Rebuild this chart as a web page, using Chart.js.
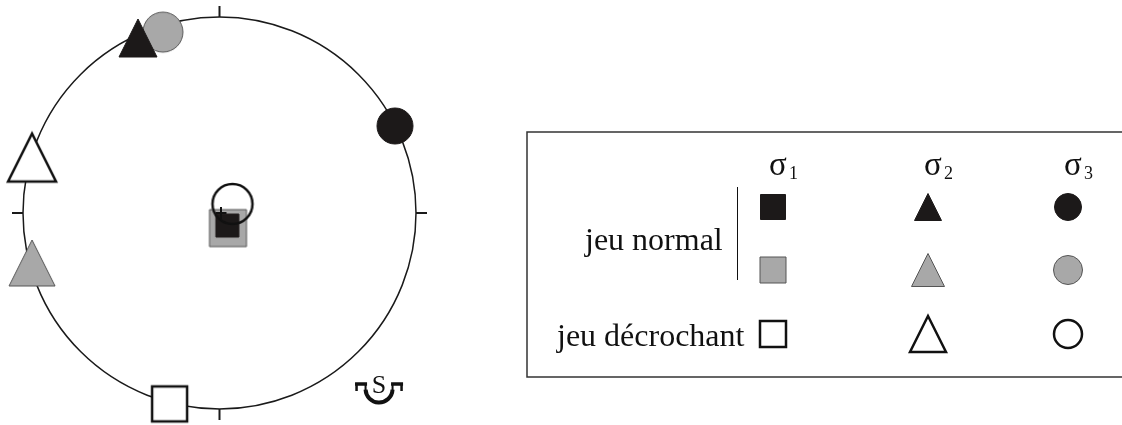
<!DOCTYPE html>
<html>
<head>
<meta charset="utf-8">
<script src="https://cdn.jsdelivr.net/npm/chart.js@4.4.1/dist/chart.umd.min.js"></script>
<style>
  html, body { margin: 0; padding: 0; background: #fff; }
  #wrap { width: 1122px; height: 425px; }
</style>
</head>
<body>
<div id="wrap"><canvas id="stereo" width="1122" height="425"></canvas></div>
<script>
// colonnes de la légende
const sigmaNames = ['σ', 'σ', 'σ'];
const sigmaIndex = ['1', '2', '3'];
const rowNames = ['jeu normal', 'jeu décrochant'];

// positions sur le stéréogramme (cercle unité, x = est, y = nord), ordre σ1, σ2, σ3
const normalBlackX = [0.04, -0.415, 0.893];
const normalBlackY = [-0.064, 0.893, 0.444];
const normalGrayX = [0.043, -0.954, -0.288];
const normalGrayY = [-0.077, -0.255, 0.923];
const decroX = [-0.254, -0.954, 0.066];
const decroY = [-0.974, 0.283, 0.046];

// repère S (symbole de la faille)
const sMarkX = 0.812;
const sMarkY = -0.893;

document.addEventListener('DOMContentLoaded', () => {
    const kinds = ['square', 'triangle', 'circle'];

    const styles = {
        black: { fill: '#1c1919', stroke: '#1c1919', lw: 1 },
        gray: { fill: '#a8a8a8', stroke: '#555555', lw: 1 },
        open: { fill: '#ffffff', stroke: '#111111', lw: 2.5 }
    };
    // tailles des symboles (carré, triangle, cercle)
    const plotSizes = { black: [23, 38, 36], gray: [37, 46, 40], open: [35, 48, 40] };
    const legendSizes = { black: [25, 27, 27], gray: [26, 33, 29], open: [26, 36, 28] };

    function drawMarker(ctx, kind, cx, cy, w, st) {
        ctx.save();
        ctx.beginPath();
        if (kind === 'square') {
            ctx.rect(cx - w / 2, cy - w / 2, w, w);
        } else if (kind === 'triangle') {
            ctx.moveTo(cx, cy - w / 2);
            ctx.lineTo(cx + w / 2, cy + w / 2);
            ctx.lineTo(cx - w / 2, cy + w / 2);
            ctx.closePath();
        } else {
            ctx.arc(cx, cy, w / 2, 0, Math.PI * 2);
        }
        // le cercle ouvert reste transparent
        if (!(kind === 'circle' && st === styles.open)) {
            ctx.fillStyle = st.fill;
            ctx.fill();
        }
        ctx.lineWidth = st.lw;
        ctx.strokeStyle = st.stroke;
        ctx.lineJoin = 'miter';
        ctx.stroke();
        ctx.restore();
    }

    function makeMarker(kind, w, st) {
        const c = document.createElement('canvas');
        const size = Math.ceil(w + st.lw * 4 + 4);
        c.width = size;
        c.height = size;
        drawMarker(c.getContext('2d'), kind, size / 2, size / 2, w, st);
        return c;
    }

    function buildDatasets(xs, ys, styleKey, order) {
        return kinds.map((kind, i) => ({
            label: sigmaNames[i] + sigmaIndex[i] + ' ' + styleKey,
            data: [{ x: xs[i], y: ys[i] }],
            pointStyle: makeMarker(kind, plotSizes[styleKey][i], styles[styleKey]),
            pointRadius: plotSizes[styleKey][i] / 2,
            clip: false,
            order: order
        }));
    }

    const datasets = [
        ...buildDatasets(normalGrayX, normalGrayY, 'gray', 2),
        ...buildDatasets(normalBlackX, normalBlackY, 'black', 1),
        ...buildDatasets(decroX, decroY, 'open', 0)
    ];

    const stereoPlugin = {
        id: 'stereo',
        beforeDatasetsDraw(chart) {
            const ctx = chart.ctx;
            const xs = chart.scales.x, ys = chart.scales.y;
            const cx = xs.getPixelForValue(0), cy = ys.getPixelForValue(0);
            const rx = xs.getPixelForValue(1) - cx, ry = cy - ys.getPixelForValue(1);
            ctx.save();
            ctx.strokeStyle = '#1a1a1a';
            ctx.lineWidth = 1.5;
            ctx.beginPath();
            ctx.ellipse(cx, cy, rx, ry, 0, 0, Math.PI * 2);
            ctx.stroke();
            // graduations N, E, S, O
            ctx.lineWidth = 2;
            const tick = 11;
            ctx.beginPath();
            ctx.moveTo(cx, cy - ry); ctx.lineTo(cx, cy - ry - tick);
            ctx.moveTo(cx, cy + ry); ctx.lineTo(cx, cy + ry + tick);
            ctx.moveTo(cx - rx, cy); ctx.lineTo(cx - rx - tick, cy);
            ctx.moveTo(cx + rx, cy); ctx.lineTo(cx + rx + tick, cy);
            ctx.stroke();
            ctx.restore();
        },
        afterDatasetsDraw(chart) {
            const ctx = chart.ctx;
            const xs = chart.scales.x, ys = chart.scales.y;
            const cx = xs.getPixelForValue(0), cy = ys.getPixelForValue(0);
            ctx.save();
            ctx.strokeStyle = '#111';
            ctx.lineWidth = 2;
            ctx.beginPath();
            ctx.moveTo(cx - 4, cy); ctx.lineTo(cx + 7, cy);
            ctx.moveTo(cx + 1.5, cy - 6); ctx.lineTo(cx + 1.5, cy + 6);
            ctx.stroke();

            // symbole S
            const sx = xs.getPixelForValue(sMarkX), sy = ys.getPixelForValue(sMarkY);
            ctx.fillStyle = '#111';
            ctx.font = '26px "Liberation Serif"';
            ctx.textAlign = 'center';
            ctx.textBaseline = 'alphabetic';
            ctx.fillText('S', sx, sy + 5);
            ctx.lineWidth = 4;
            ctx.beginPath();
            ctx.arc(sx, sy + 1, 13.5, 0.05, Math.PI - 0.05);
            ctx.stroke();
            ctx.lineWidth = 2;
            ctx.beginPath();
            ctx.moveTo(sx - 13.5, sy + 2); ctx.lineTo(sx - 13.5, sy - 4);
            ctx.moveTo(sx + 13.5, sy + 2); ctx.lineTo(sx + 13.5, sy - 4);
            ctx.stroke();
            ctx.lineWidth = 3.5;
            ctx.beginPath();
            ctx.moveTo(sx - 24, sy - 4); ctx.lineTo(sx - 12, sy - 4);
            ctx.moveTo(sx + 12, sy - 4); ctx.lineTo(sx + 24, sy - 4);
            ctx.stroke();
            ctx.lineWidth = 2.5;
            ctx.beginPath();
            ctx.moveTo(sx - 22.5, sy - 5); ctx.lineTo(sx - 22.5, sy + 3);
            ctx.moveTo(sx + 22.5, sy - 5); ctx.lineTo(sx + 22.5, sy + 3);
            ctx.stroke();
            ctx.restore();
        },
        afterDraw(chart) {
            const ctx = chart.ctx;
            ctx.save();
            // cadre de la légende
            ctx.strokeStyle = '#333';
            ctx.lineWidth = 1.5;
            ctx.beginPath();
            ctx.moveTo(1122, 132); ctx.lineTo(527, 132); ctx.lineTo(527, 377); ctx.lineTo(1122, 377);
            ctx.stroke();

            const colX = [773, 928, 1068];
            const rowY = [207, 270, 334];
            ctx.fillStyle = '#111';
            ctx.textBaseline = 'alphabetic';
            ctx.textAlign = 'left';
            colX.forEach((x, i) => {
                ctx.font = '33px "Liberation Serif"';
                ctx.fillText(sigmaNames[i], x - 4, 175);
                ctx.font = '18px "Liberation Serif"';
                ctx.fillText(sigmaIndex[i], x + 16, 179);
            });
            ctx.font = '32px "Liberation Serif"';
            ctx.fillText(rowNames[0], 585, 250);
            ctx.fillText(rowNames[1], 557, 346);

            ctx.lineWidth = 1;
            ctx.strokeStyle = '#111';
            ctx.beginPath();
            ctx.moveTo(737.5, 187); ctx.lineTo(737.5, 280);
            ctx.stroke();

            ['black', 'gray', 'open'].forEach((key, r) => {
                kinds.forEach((kind, i) => {
                    drawMarker(ctx, kind, colX[i], rowY[r], legendSizes[key][i], styles[key]);
                });
            });
            ctx.restore();
        }
    };

    new Chart(document.getElementById('stereo').getContext('2d'), {
        type: 'scatter',
        data: { datasets: datasets },
        options: {
            responsive: false,
            animation: false,
            layout: { autoPadding: false, padding: { left: 23, right: 706, top: 17, bottom: 16 } },
            scales: {
                x: { type: 'linear', min: -1, max: 1, display: false },
                y: { type: 'linear', min: -1, max: 1, display: false }
            },
            plugins: { legend: { display: false }, tooltip: { enabled: false } }
        },
        plugins: [stereoPlugin]
    });
});
</script>
</body>
</html>
